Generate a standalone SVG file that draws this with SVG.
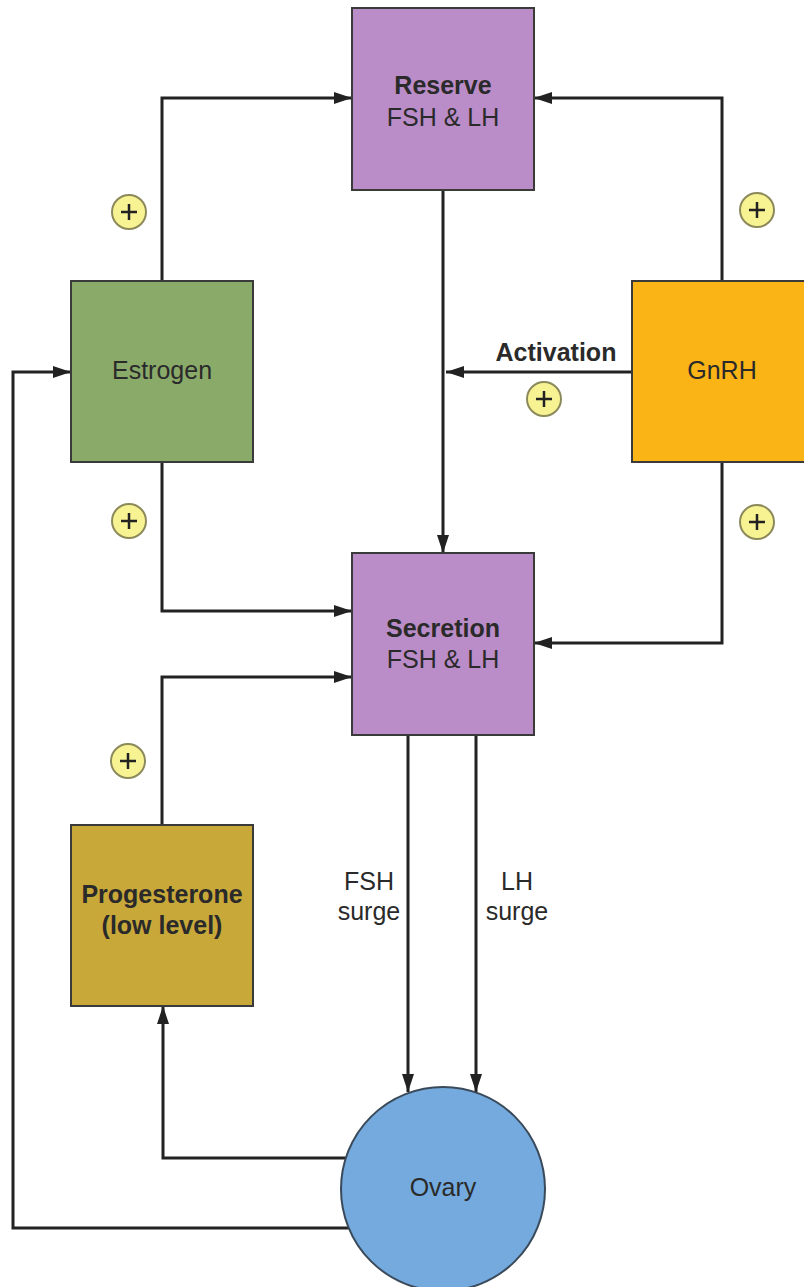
<svg xmlns="http://www.w3.org/2000/svg" width="804" height="1287" viewBox="0 0 804 1287">
<defs>
<style>
.box{stroke:#3a3a3a;stroke-width:2}
.t{font-family:"Liberation Sans",Arial,Helvetica,sans-serif;font-size:25px;fill:#2a2a2a;text-anchor:middle}
.b{font-weight:bold}
.c{fill:none;stroke:#222;stroke-width:3;marker-end:url(#ah)}
.pc{fill:#f8f392;stroke:#8c8a5a;stroke-width:2}
.pl{stroke:#222;stroke-width:2.5;fill:none}
</style>
<marker id="ah" markerUnits="userSpaceOnUse" markerWidth="20" markerHeight="14" refX="18" refY="6" orient="auto">
<path d="M0,0 L18,6 L0,12 z" fill="#222"/>
</marker>
<g id="plus"><circle class="pc" r="17"/><path class="pl" d="M-8,0 H8 M0,-8 V8"/></g>
</defs>
<rect width="804" height="1287" fill="#fff"/>
<g id="connectors">
<path class="c" d="M162,281 V98 H352"/>
<path class="c" d="M722,281 V98 H534"/>
<path class="c" d="M443,190 V553"/>
<path class="c" d="M632,372 H446"/>
<path class="c" d="M162,462 V611 H352"/>
<path class="c" d="M722,462 V643 H534"/>
<path class="c" d="M162,825 V677 H352"/>
<path class="c" d="M408,735 V1092"/>
<path class="c" d="M476,735 V1092"/>
<path class="c" d="M346,1158 H163 V1006"/>
<path class="c" d="M349,1228 H13 V372 H71"/>
</g>
<g id="signs">
<use href="#plus" x="129" y="212"/>
<use href="#plus" x="757" y="210"/>
<use href="#plus" x="129" y="521"/>
<use href="#plus" x="757" y="522"/>
<use href="#plus" x="544" y="399"/>
<use href="#plus" x="128" y="761"/>
</g>
<g id="labels">
<text class="t b" x="556" y="361">Activation</text>
<text class="t" x="369" y="890">FSH</text>
<text class="t" x="369" y="920">surge</text>
<text class="t" x="517" y="890">LH</text>
<text class="t" x="517" y="920">surge</text>
</g>
<g id="reserve">
<rect class="box" x="352" y="8" width="182" height="182" fill="#bb8dc8"/>
<text class="t b" x="443" y="94">Reserve</text>
<text class="t" x="443" y="126">FSH &amp; LH</text>
</g>
<g id="estrogen">
<rect class="box" x="71" y="281" width="182" height="181" fill="#8aaa6a"/>
<text class="t" x="162" y="379">Estrogen</text>
</g>
<g id="gnrh">
<rect class="box" x="632" y="281" width="182" height="181" fill="#fbb416"/>
<text class="t" x="722" y="379">GnRH</text>
</g>
<g id="secretion">
<rect class="box" x="352" y="553" width="182" height="182" fill="#bb8dc8"/>
<text class="t b" x="443" y="637">Secretion</text>
<text class="t" x="443" y="668">FSH &amp; LH</text>
</g>
<g id="progesterone">
<rect class="box" x="71" y="825" width="182" height="181" fill="#c9a83a"/>
<text class="t b" x="162" y="903">Progesterone</text>
<text class="t b" x="162" y="934">(low level)</text>
</g>
<g id="ovary">
<circle cx="443" cy="1189" r="102" fill="#74aade" stroke="#3a4a5a" stroke-width="2"/>
<text class="t" x="443" y="1196">Ovary</text>
</g>
</svg>
